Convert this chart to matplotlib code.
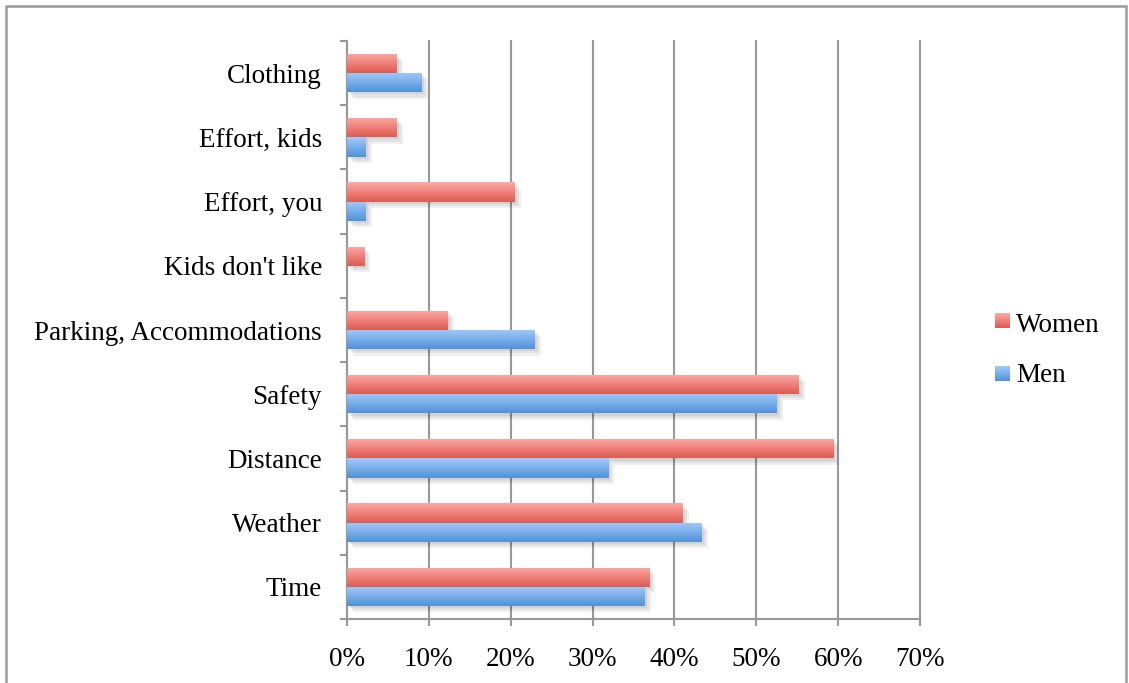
import numpy as np
import matplotlib
matplotlib.use("Agg")
import matplotlib.pyplot as plt
import matplotlib.patheffects as pe
from matplotlib.patches import Rectangle
from matplotlib.colors import LinearSegmentedColormap

# Reasons for not cycling, share of respondents (%)
categories = ["Time", "Weather", "Distance", "Safety", "Parking, Accommodations",
              "Kids don't like", "Effort, you", "Effort, kids", "Clothing"]
women = [36.9, 41.0, 59.4, 55.2, 12.3, 2.1, 20.5, 6.1, 6.1]
men = [36.4, 43.3, 31.9, 52.5, 22.9, 0.0, 2.3, 2.3, 9.15]
xticks = [0, 10, 20, 30, 40, 50, 60, 70]
xtick_labels = [f"{t}%" for t in xticks]

FONT = "Liberation Serif"
FS = 19.5

women_cmap = LinearSegmentedColormap.from_list("w", ["#df5a4f", "#fda9a6"])
men_cmap = LinearSegmentedColormap.from_list("m", ["#4f92da", "#a3c9f9"])

W, H = 1129, 683
fig = plt.figure(figsize=(W / 100, H / 100), dpi=100)

# outer chart frame
fig.patches.append(Rectangle((6 / W, -0.05), (1126 - 6) / W, (677 + 0.05 * H) / H,
                             transform=fig.transFigure, fill=False,
                             edgecolor="#9a9a9a", linewidth=1.8, zorder=0))

ax = fig.add_axes([347 / W, (H - 619) / H, (920 - 347) / W, (619 - 41) / H])

y = np.arange(len(categories))
h = 0.3

shadow = [pe.SimplePatchShadow(offset=(o, -o), shadow_rgbFace="#000000", alpha=0.06)
          for o in (1.5, 3, 4.5)] + [pe.Normal()]

grad = np.linspace(0, 1, 64).reshape(-1, 1)


def gradient_bars(vals, offset, cmap):
    bars = ax.barh(y + offset, vals, height=h, align="edge",
                   color=cmap(0.5), linewidth=0, zorder=3)
    for b in bars:
        b.set_path_effects(shadow)
        if b.get_width() <= 0:
            continue
        x0, y0 = b.get_x(), b.get_y()
        im = ax.imshow(grad, extent=(x0, x0 + b.get_width(), y0, y0 + b.get_height()),
                       origin="lower", cmap=cmap, aspect="auto",
                       interpolation="bilinear", zorder=4)
        im.set_clip_path(b)
    return bars


gradient_bars(women, 0.0, women_cmap)
gradient_bars(men, -h, men_cmap)

ax.set_xlim(0, 70)
ax.set_ylim(-0.5, len(categories) - 0.5)

ax.set_xticks(xticks)
ax.set_xticklabels(xtick_labels, fontsize=FS, family=FONT)
ax.set_yticks(y)
ax.set_yticklabels(categories, fontsize=FS, family=FONT)
ax.set_yticks(np.arange(len(categories) + 1) - 0.5, minor=True)

ax.xaxis.grid(True, color="#999999", linewidth=1.5, zorder=1)
ax.set_axisbelow(True)
for gl in ax.get_xgridlines():
    gl.set_clip_on(False)

for s in ("top", "right"):
    ax.spines[s].set_visible(False)
for s in ("left", "bottom"):
    ax.spines[s].set_color("#999999")
    ax.spines[s].set_linewidth(1.5)

ax.tick_params(axis="y", which="major", length=0, pad=18)
ax.tick_params(axis="y", which="minor", length=5, width=1.5, color="#999999", direction="out")
ax.tick_params(axis="x", which="major", length=5, width=1.5, color="#999999",
               direction="out", pad=15)

# legend
for label, cmap, ysq, ybase in (("Women", women_cmap, 320, 332), ("Men", men_cmap, 373.5, 382.5)):
    sq = fig.add_axes([995 / W, (H - ysq - 7.5) / H, 15 / W, 15 / H])
    sq.imshow(grad, origin="lower", cmap=cmap, aspect="auto", interpolation="bilinear")
    sq.set_axis_off()
    fig.text(1016 / W, (H - ybase) / H, label, fontsize=FS, family=FONT,
             ha="left", va="baseline")

fig.savefig("out.png", dpi=100)
